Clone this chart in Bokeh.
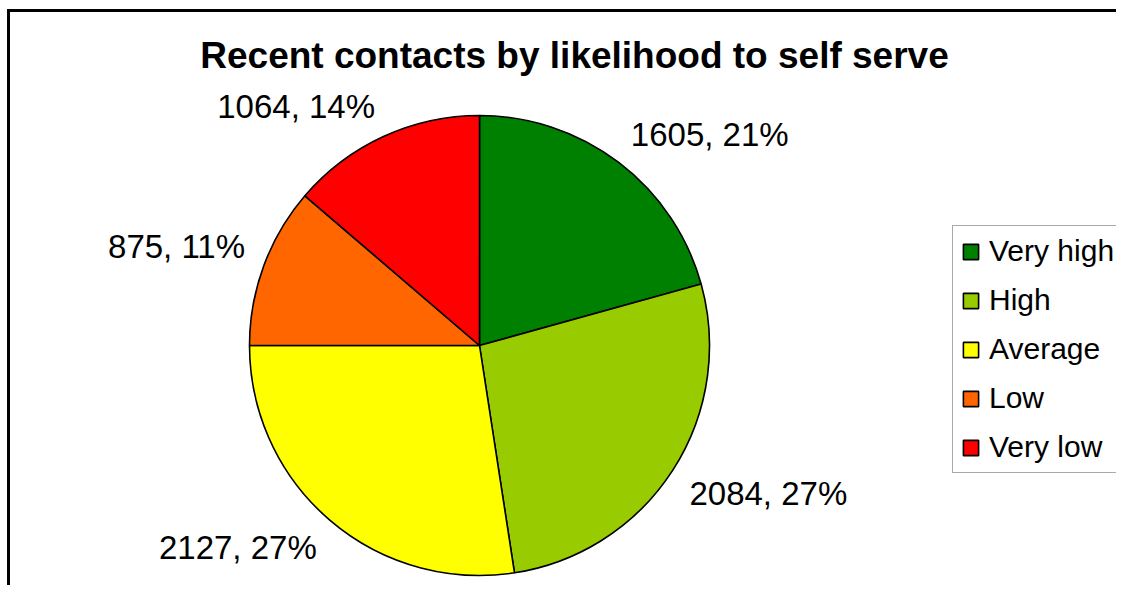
import math
from bokeh.plotting import figure
from bokeh.models import ColumnDataSource, Range1d, Label
from bokeh.embed import file_html
from bokeh.resources import INLINE

# ---- data ----
categories = ["Very high", "High", "Average", "Low", "Very low"]
counts = [1605, 2084, 2127, 875, 1064]
colors = ["#008000", "#99CC00", "#FFFF00", "#FF6600", "#FF0000"]
title_text = "Recent contacts by likelihood to self serve"

W, H = 1116, 585
FONT = "Liberation Sans"

total = sum(counts)
starts, ends, mids, labels = [], [], [], []
cum = 0.0
for c in counts:
    a_end = math.pi / 2 - 2 * math.pi * cum / total
    cum += c
    a_start = math.pi / 2 - 2 * math.pi * cum / total
    starts.append(a_start)
    ends.append(a_end)
    mids.append((a_start + a_end) / 2)
    labels.append(f"{c}, {round(100 * c / total)}%")

src = ColumnDataSource(dict(cat=categories, val=counts, color=colors,
                            start=starts, end=ends))

p = figure(width=W, height=H, x_range=Range1d(0, W), y_range=Range1d(0, H),
           x_axis_type=None, y_axis_type=None, min_border=0,
           toolbar_location=None, output_backend="svg")
p.outline_line_color = None
p.background_fill_color = "white"
p.border_fill_color = "white"

# chart border (top and left visible, the rest is cropped by the window)
p.line(x=[8, 8, W + 20], y=[-20, H - 10, H - 10], line_color="black",
       line_width=3, line_join="miter")

cx, cy, r = 479, H - 345, 230
p.wedge(x=cx, y=cy, radius=r, start_angle="start", end_angle="end",
        fill_color="color", line_color="black", line_width=1.6,
        legend_field="cat", source=src)

# data labels (placed just outside the pie, anchored by the nearest corner)
fs = 33
cap = 0.716 * fs
dist = r + 20
for lab, m in zip(labels, mids):
    ax = cx + dist * math.cos(m)
    ay = cy + dist * math.sin(m)
    align = "left" if math.cos(m) > 0 else "right"
    my = ay + cap / 2 if math.sin(m) > 0 else ay - cap / 2
    p.add_layout(Label(x=ax, y=my, text=lab, text_align=align,
                       text_baseline="middle", text_font=FONT,
                       text_font_size=f"{fs}px", text_color="black"))

# title
p.add_layout(Label(x=574, y=H - 55, text=title_text, text_align="center",
                   text_baseline="middle", text_font=FONT,
                   text_font_size="37px", text_font_style="bold",
                   text_color="black"))

lg = p.legend[0]
lg.location = (952, H - 473)
lg.label_text_font = FONT
lg.label_text_font_size = "30px"
lg.label_text_color = "black"
lg.glyph_width = 19
lg.glyph_height = 19
lg.label_standoff = 9
lg.label_height = 32
lg.spacing = 15
lg.padding = 8
lg.margin = 0
lg.border_line_color = "#555555"
lg.border_line_width = 1
lg.background_fill_color = "white"
lg.background_fill_alpha = 1.0

open("out.html", "w").write(file_html(p, INLINE))
